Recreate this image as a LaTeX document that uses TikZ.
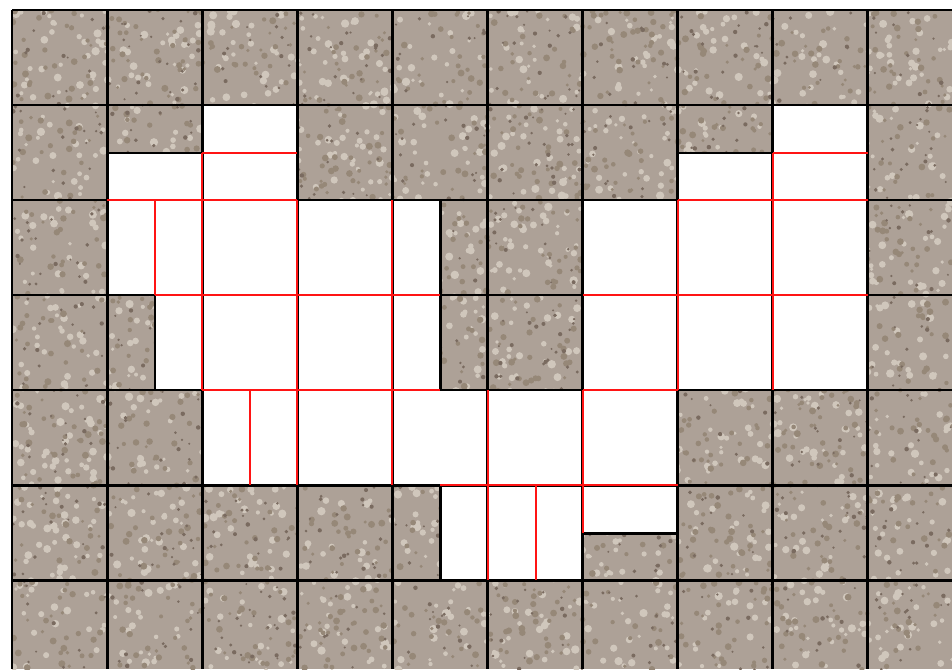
\documentclass[tikz,border=0pt]{standalone}
\usepackage{xcolor}
\usepackage{tikz}
\definecolor{Stone}{HTML}{ADA197}
\definecolor{StoneDark}{HTML}{7A6B60}
\definecolor{StoneMid}{HTML}{968878}
\definecolor{StoneLight}{HTML}{D0C7BC}
\definecolor{Seam}{HTML}{FF1414}
\begin{document}
\begin{tikzpicture}[
  x=0.02cm,y=-0.02cm,
  tile/.style={draw=black,line width=1.7pt},
  seam/.style={draw=Seam,line width=1.6pt},
  hole/.style={fill=white}
]
  \useasboundingbox (0,0) rectangle (952,669);
  % stone texture
  \begin{scope}
    \clip (12,10) rectangle (952,669);
    \fill[Stone] (12,10) rectangle (952,669);
    \pgfmathsetseed{11}
    \foreach \n in {1,2}
      \fill[StoneLight] \foreach \k in {1,...,1000} {({12+940*rnd},{10+660*rnd}) circle ({1pt+1.4pt*rnd})};
    \foreach \n in {1,2}
      \fill[StoneMid] \foreach \k in {1,...,1000} {({12+940*rnd},{10+660*rnd}) circle ({0.9pt+1.1pt*rnd})};
    \fill[StoneDark] \foreach \k in {1,...,1200} {({12+940*rnd},{10+660*rnd}) circle ({0.6pt+0.7pt*rnd})};
  \end{scope}
  % cut-out area
  \path[hole] (202,105) -- (297,105) -- (297,200) -- (440,200) -- (440,390) -- (583,390)
    -- (583,200) -- (678,200) -- (678,153) -- (773,153) -- (773,105) -- (868,105)
    -- (868,390) -- (678,390) -- (678,533) -- (583,533) -- (583,580) -- (440,580)
    -- (440,485) -- (202,485) -- (202,390) -- (155,390) -- (155,295) -- (107,295)
    -- (107,153) -- (202,153) -- cycle;
  % tile grid
  \foreach \i in {0,...,9}
    \draw[tile] ({12+95.1*\i},10) -- ({12+95.1*\i},669);
  \foreach \j in {0,...,6}
    \draw[tile] (12,{10+95*\j}) -- (952,{10+95*\j});
  \draw[tile] (107,153) -- (202,153);
  \draw[tile] (678,153) -- (773,153);
  \draw[tile] (155,295) -- (155,390);
  \draw[tile] (440,200) -- (440,390);
  \draw[tile] (440,485) -- (440,580);
  \draw[tile] (583,533) -- (678,533);
  % cut lines
  \draw[seam] (155,200) -- (155,295);
  \draw[seam] (202,153) -- (202,390);
  \draw[seam] (250,390) -- (250,485);
  \draw[seam] (297,200) -- (297,485);
  \draw[seam] (392,200) -- (392,485);
  \draw[seam] (488,390) -- (488,580);
  \draw[seam] (536,485) -- (536,580);
  \draw[seam] (583,390) -- (583,533);
  \draw[seam] (678,200) -- (678,390);
  \draw[seam] (773,153) -- (773,390);
  \draw[seam] (202,153) -- (297,153);
  \draw[seam] (773,153) -- (868,153);
  \draw[seam] (107,200) -- (297,200);
  \draw[seam] (678,200) -- (868,200);
  \draw[seam] (155,295) -- (440,295);
  \draw[seam] (583,295) -- (868,295);
  \draw[seam] (202,390) -- (440,390);
  \draw[seam] (583,390) -- (678,390);
  \draw[seam] (440,485) -- (678,485);
\end{tikzpicture}
\end{document}
